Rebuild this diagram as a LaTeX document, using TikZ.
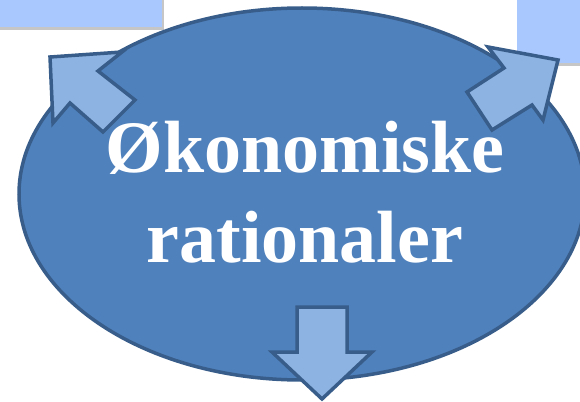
\documentclass[tikz,border=0pt]{standalone}
\usepackage{fontspec}
\setmainfont{Liberation Serif}
\usetikzlibrary{shadows,shapes.geometric}

\definecolor{boxblue}{HTML}{A9C8FD}
\definecolor{ovalblue}{HTML}{4F81BD}
\definecolor{edgeblue}{HTML}{385D8A}
\definecolor{arrowblue}{HTML}{8DB3E2}

\tikzset{
  topbox/.style={fill=boxblue,draw=none,drop shadow={shadow xshift=2pt,shadow yshift=-3pt,opacity=0.45}},
  blockarrow/.style={fill=arrowblue,draw=edgeblue,line width=3.5pt,line join=miter},
}

\begin{document}
\begin{tikzpicture}[x=1pt,y=-1pt]
\useasboundingbox (0,0) rectangle (580,401);
\fill[boxblue,topbox] (-10,-10) rectangle (162,27);
\fill[boxblue,topbox] (517,-10) rectangle (590,63);
\node[ellipse,fill=ovalblue,draw=edgeblue,line width=3.5pt,
      minimum width=566pt,minimum height=372pt] (oval) at (302,194) {};
\node[text=white,font=\fontsize{74}{90}\selectfont\bfseries,align=center] (label) at (305,192)
  {Økonomiske\\rationaler};
% up left
\draw[blockarrow] (50,57) -- (122,52) -- (98,71) -- (135,100) -- (103,132) -- (70,103) -- (53,123) -- cycle;
% up right
\draw[blockarrow] (558,60) -- (543,120) -- (532,105) -- (492,130) -- (467,92) -- (504,68) -- (488,47) -- cycle;
% down
\draw[blockarrow] (322,399) -- (372,352) -- (347,352) -- (347,307) -- (297,307) -- (297,352) -- (272,352) -- cycle;
\end{tikzpicture}
\end{document}
